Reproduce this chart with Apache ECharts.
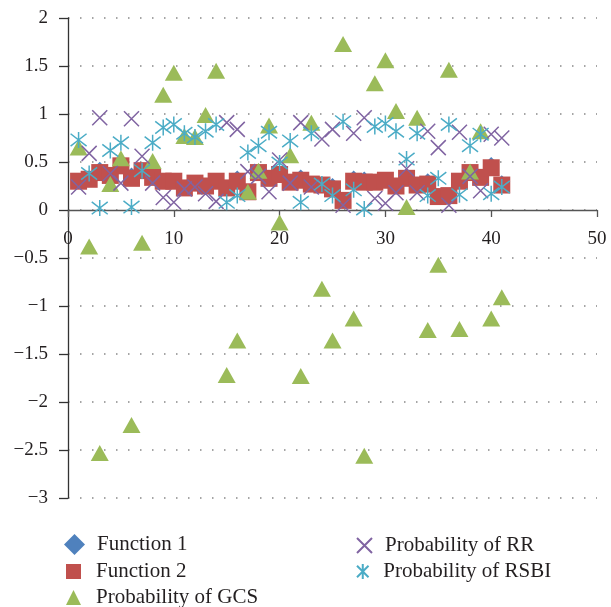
<!DOCTYPE html>
<html>
<head>
<meta charset="utf-8">
<script src="https://cdn.jsdelivr.net/npm/echarts@6/dist/echarts.min.js"></script>
<style>html,body{margin:0;padding:0;background:#fff}#c{width:611px;height:607px}</style>
</head>
<body>
<div id="c"></div>
<script>
const xValues = [1,2,3,4,5,6,7,8,9,10,11,12,13,14,15,16,17,18,19,20,21,22,23,24,25,26,27,28,29,30,31,32,33,34,35,36,37,38,39,40,41];
const function1 = [0.29,0.31,0.45,0.35,0.45,0.39,0.40,0.33,0.29,0.29,0.22,0.27,0.24,0.29,0.22,0.36,0.18,0.38,0.32,0.36,0.28,0.37,0.26,0.25,0.28,0.09,0.36,0.35,0.28,0.30,0.24,0.32,0.25,0.33,0.13,0.14,0.29,0.38,0.33,0.50,0.31];
const function2 = [0.30,0.32,0.39,0.36,0.46,0.33,0.41,0.34,0.30,0.30,0.23,0.28,0.25,0.30,0.23,0.30,0.19,0.39,0.33,0.37,0.29,0.31,0.27,0.26,0.22,0.10,0.30,0.29,0.29,0.31,0.25,0.33,0.26,0.27,0.14,0.15,0.30,0.39,0.34,0.44,0.26];
const probGCS = [0.65,-0.38,-2.53,0.27,0.54,-2.24,-0.34,0.51,1.20,1.43,0.77,0.76,0.99,1.45,-1.72,-1.36,0.19,0.41,0.88,-0.13,0.57,-1.73,0.91,-0.82,-1.36,1.73,-1.13,-2.56,1.32,1.56,1.03,0.03,0.96,-1.25,-0.57,1.46,-1.24,0.40,0.82,-1.13,-0.91];
const probRR = [0.24,0.59,0.96,0.38,0.28,0.95,0.56,0.28,0.13,0.08,0.22,0.24,0.17,0.09,0.91,0.84,0.40,0.35,0.19,0.52,0.28,0.91,0.24,0.74,0.84,0.05,0.80,0.96,0.12,0.07,0.18,0.43,0.18,0.82,0.65,0.05,0.81,0.35,0.20,0.79,0.75];
const probRSBI = [0.73,0.38,0.02,0.62,0.70,0.03,0.41,0.70,0.86,0.89,0.80,0.76,0.82,0.89,0.08,0.15,0.60,0.67,0.81,0.49,0.72,0.08,0.80,0.27,0.15,0.92,0.21,0.01,0.87,0.90,0.82,0.53,0.80,0.15,0.33,0.89,0.16,0.67,0.79,0.17,0.24];
const seriesNames = ['Function 1','Function 2','Probability of GCS','Probability of RR','Probability of RSBI'];
const xTicks = {min:0, max:50, interval:10};
const yTicks = {min:-3, max:2, interval:0.5};

const pairs = ys => xValues.map((x,i)=>[x, ys[i]]);
const FONT = 'Liberation Serif';
const TXT = '#231f20';
const xPath = 'path://M0 0L10 10M10 0L0 10';
const starPath = 'path://M0 0L10 10M10 0L0 10M5 -1.5L5 11.5';

const GRID = {left:68, right:14, top:18, bottom:109};
const plotH = 607 - GRID.top - GRID.bottom;
const zeroOffset = -plotH * (0 - yTicks.min) / (yTicks.max - yTicks.min);

const legendPos = [
  {left:64, top:534}, {left:66, top:561}, {left:66, top:587},
  {left:356, top:535}, {left:356, top:561}
];
const legendBox = [21, 15, 15, 15, 15];
const legendPad = [7, 10, 10, 8, 8];
const legends = seriesNames.map((n,i)=>({
  data:[n], orient:'horizontal',
  left:legendPos[i].left, top:legendPos[i].top, padding:0,
  itemWidth:legendBox[i], itemHeight:legendBox[i],
  textStyle:{fontFamily:FONT, fontSize:21, color:TXT, padding:[0,0,0,legendPad[i]]}
}));

const chart = echarts.init(document.getElementById('c'), null, {renderer:'canvas'});
chart.setOption({
  animation:false,
  backgroundColor:'#fff',
  grid:Object.assign({containLabel:false}, GRID),
  xAxis:{type:'value', min:xTicks.min, max:xTicks.max, interval:xTicks.interval,
    offset:zeroOffset,
    axisLine:{onZero:false, lineStyle:{color:'#555', width:1.3}},
    axisTick:{show:true, inside:false, length:7, lineStyle:{color:'#555', width:1.3}},
    axisLabel:{margin:20, fontFamily:FONT, fontSize:19, color:TXT},
    splitLine:{show:false}},
  yAxis:{type:'value', min:yTicks.min, max:yTicks.max, interval:yTicks.interval,
    axisLine:{show:true, onZero:false, lineStyle:{color:'#333', width:1.3}},
    axisTick:{show:true, length:9, lineStyle:{color:'#333', width:1.3}},
    axisLabel:{margin:20, fontFamily:FONT, fontSize:19, color:TXT,
      formatter:v=>String(v).replace('-','\u2212')},
    splitLine:{show:true, lineStyle:{color:'#888', width:1.5, type:[1.5,10.5]}}},
  legend:legends,
  series:[
    {name:seriesNames[0], type:'scatter', data:pairs(function1), symbol:'diamond', symbolSize:10,
     itemStyle:{color:'#4F81BD', opacity:1}},
    {name:seriesNames[1], type:'scatter', data:pairs(function2), symbol:'rect', symbolSize:17,
     itemStyle:{color:'#C0504D', opacity:1}},
    {name:seriesNames[2], type:'scatter', data:pairs(probGCS), symbol:'triangle', symbolSize:[18,16],
     itemStyle:{color:'#9BBB59', opacity:1}},
    {name:seriesNames[3], type:'scatter', data:pairs(probRR), symbol:xPath, symbolSize:15,
     itemStyle:{color:'rgba(0,0,0,0)', borderColor:'#8064A2', borderWidth:1.5, opacity:1}},
    {name:seriesNames[4], type:'scatter', data:pairs(probRSBI), symbol:starPath, symbolSize:16,
     itemStyle:{color:'rgba(0,0,0,0)', borderColor:'#4BACC6', borderWidth:1.5, opacity:1}}
  ]
});
</script>
</body>
</html>
